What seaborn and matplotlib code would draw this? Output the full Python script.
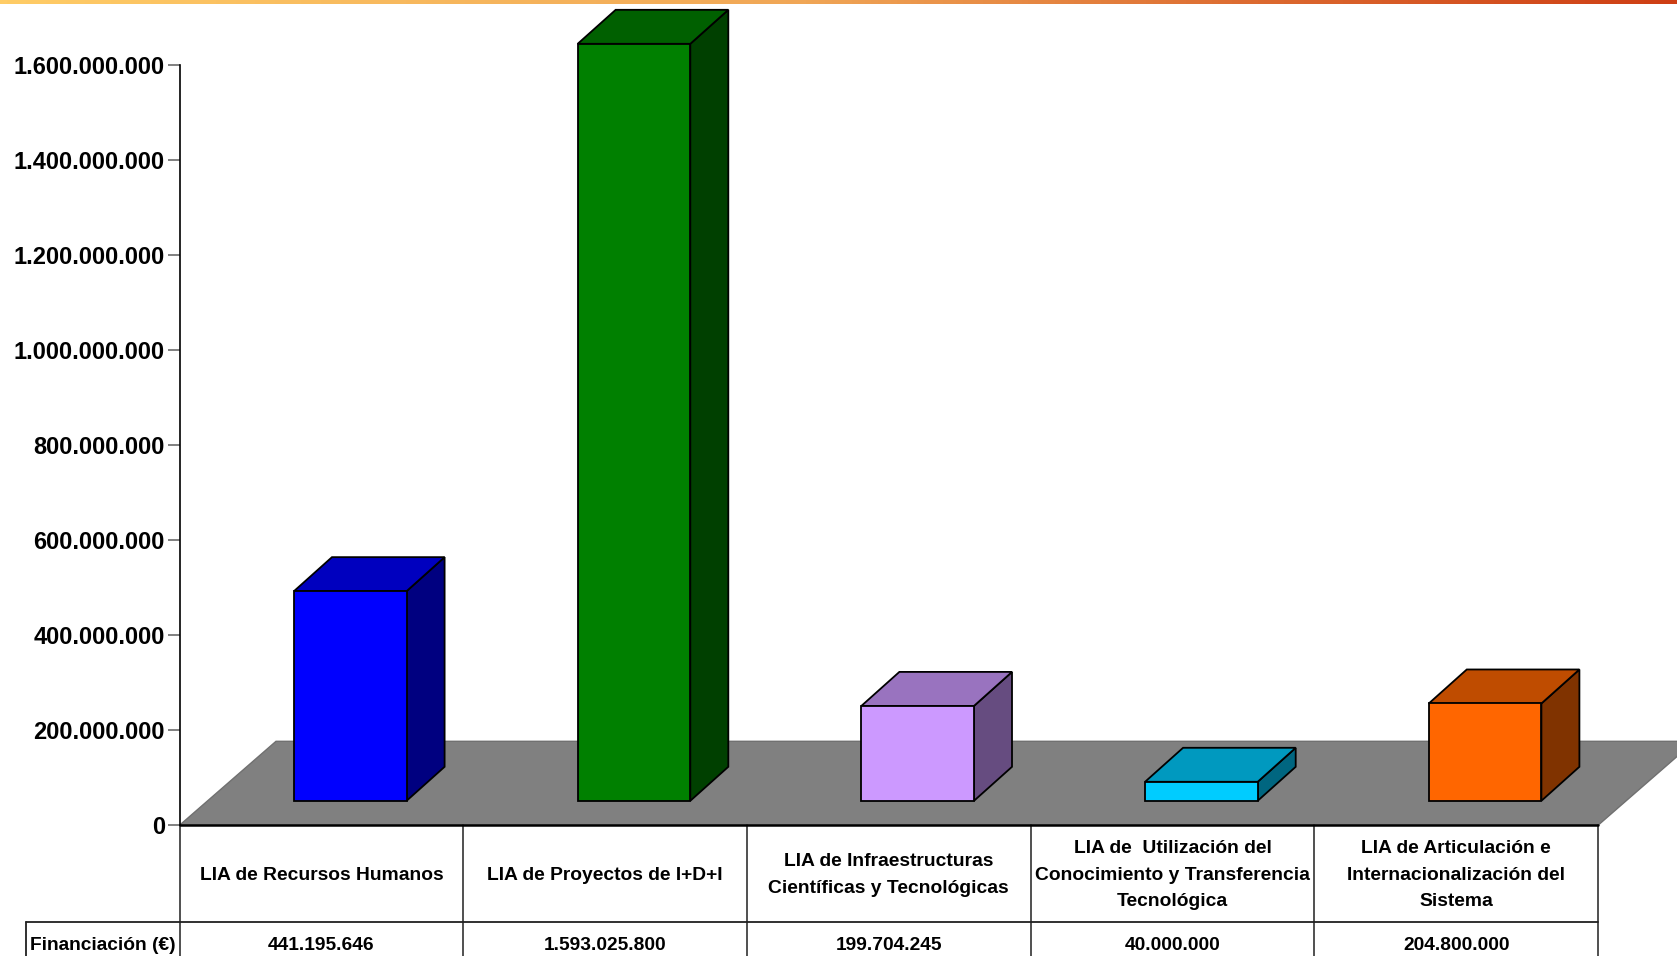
import numpy as np
import pandas as pd
import matplotlib
matplotlib.use("Agg")
import matplotlib.pyplot as plt
from matplotlib.colors import LinearSegmentedColormap
from matplotlib.patches import Polygon
from matplotlib.ticker import FuncFormatter
import seaborn as sns

categories = ["LIA de Recursos Humanos", "LIA de Proyectos de I+D+I",
              "LIA de Infraestructuras\nCientíficas y Tecnológicas",
              "LIA de  Utilización del\nConocimiento y Transferencia\nTecnológica",
              "LIA de Articulación e\nInternacionalización del\nSistema"]
values = [441195646, 1593025800, 199704245, 40000000, 204800000]
value_labels = ["441.195.646", "1.593.025.800", "199.704.245", "40.000.000", "204.800.000"]
row_label = "Financiación (€)"
y_ticks = [0, 200000000, 400000000, 600000000, 800000000, 1000000000, 1200000000, 1400000000, 1600000000]
front_colors = ["#0000FF", "#008000", "#CC99FF", "#00CCFF", "#FF6600"]
top_colors = ["#0000BF", "#006000", "#9973BF", "#0099BF", "#BF4C00"]
side_colors = ["#000080", "#004000", "#664C80", "#006680", "#803300"]
band_colors = [(0, "#FFCC66"), (0.48, "#F0A656"), (0.75, "#DC6A30"), (1, "#CE3E14")]

W, H = 1677, 956
sns.set_style("white")
plt.rcParams["font.family"] = ["Liberation Sans", "DejaVu Sans"]
plt.rcParams["font.weight"] = "bold"
plt.rcParams["text.color"] = "black"

fig = plt.figure(figsize=(W / 100, H / 100), dpi=100, facecolor="white")
L, R, Y0, Y1 = 179.5, 1598.0, 825.3, 65.0
ax = fig.add_axes([L / W, 1 - Y0 / H, (R - L) / W, (Y0 - Y1) / H])
ax.patch.set_alpha(0)

df = pd.DataFrame({"cat": categories, "val": values})
ppx = 5 / (R - L)
ppy = y_ticks[-1] / (Y0 - Y1)
base = 24.5 * ppy
sns.barplot(data=df, x="cat", y="val", hue="cat", palette=front_colors, legend=False,
            width=0.397, bottom=base, saturation=1, ax=ax, edgecolor="black", linewidth=1.3)
ax.set_xlim(-0.5, 4.5)
ax.set_ylim(0, y_ticks[-1])
ax.set_xlabel("")
ax.set_ylabel("")

dx, dy = 38 * ppx, 34 * ppy
for i, p in enumerate(ax.patches):
    p.set_x(p.get_x() + 0.102)
    p.set_zorder(4)
    p.set_clip_on(False)
    x0, x1 = p.get_x(), p.get_x() + p.get_width()
    y0, y1 = p.get_y(), p.get_y() + p.get_height()
    ax.add_patch(Polygon([(x1, y0), (x1 + dx, y0 + dy), (x1 + dx, y1 + dy), (x1, y1)], closed=True,
                         fc=side_colors[i], ec="black", lw=1.3, zorder=3, clip_on=False))
    ax.add_patch(Polygon([(x0, y1), (x0 + dx, y1 + dy), (x1 + dx, y1 + dy), (x1, y1)], closed=True,
                         fc=top_colors[i], ec="black", lw=1.3, zorder=3, clip_on=False))

fdx, fdy = 96.5 * ppx, 84 * ppy
ax.add_patch(Polygon([(-0.5, 0), (-0.5 + fdx, fdy), (4.5 + fdx, fdy), (4.5, 0)], closed=True,
                     fc="#808080", ec="#707070", lw=1, zorder=0.5, clip_on=False))

for s in ["top", "right", "bottom"]:
    ax.spines[s].set_visible(False)
ax.spines["left"].set_linewidth(1.2)
ax.spines["left"].set_color("black")
ax.set_yticks(y_ticks)
ax.yaxis.set_major_formatter(FuncFormatter(lambda v, _: f"{int(v):,}".replace(",", ".")))
ax.tick_params(axis="y", left=True, length=8.5, width=1.4, color="#808080", pad=2, labelsize=17, labelcolor="black")
ax.set_xticks([])
for t in ax.get_yticklabels():
    t.set_fontweight("bold")

# data table under the plot
y_row = -(922.3 - Y0) * ppy
y_end = -(H - Y0) * ppy
ax.plot([-0.5, 4.5], [0, 0], color="black", lw=1.8, zorder=5, clip_on=False)
for k in range(6):
    ax.plot([k - 0.5, k - 0.5], [0, y_end], color="#202020", lw=1.1, clip_on=False)
x_left = -0.5 - (L - 25.5) * ppx
ax.plot([x_left, 4.5], [y_row, y_row], color="#202020", lw=1.3, clip_on=False)
ax.plot([x_left, x_left], [y_row, y_end], color="#202020", lw=1.3, clip_on=False)
for k, (c, v) in enumerate(zip(categories, value_labels)):
    ax.text(k, -(875 - Y0) * ppy, c, ha="center", va="center", fontsize=13.9, fontweight="bold",
            linespacing=1.7, clip_on=False)
    ax.text(k, -(945 - Y0) * ppy, v, ha="center", va="center", fontsize=13.8, fontweight="bold", clip_on=False)
ax.text(x_left + 4.5 * ppx, -(945 - Y0) * ppy, row_label, ha="left", va="center", fontsize=13.8, fontweight="bold", clip_on=False)

# decorative gradient band along the top edge
band = fig.add_axes([0, 1 - 4 / H, 1, 4 / H])
band.imshow(np.linspace(0, 1, 512)[None, :], aspect="auto",
            cmap=LinearSegmentedColormap.from_list("band", band_colors))
band.axis("off")

fig.savefig("out.png", dpi=100)
